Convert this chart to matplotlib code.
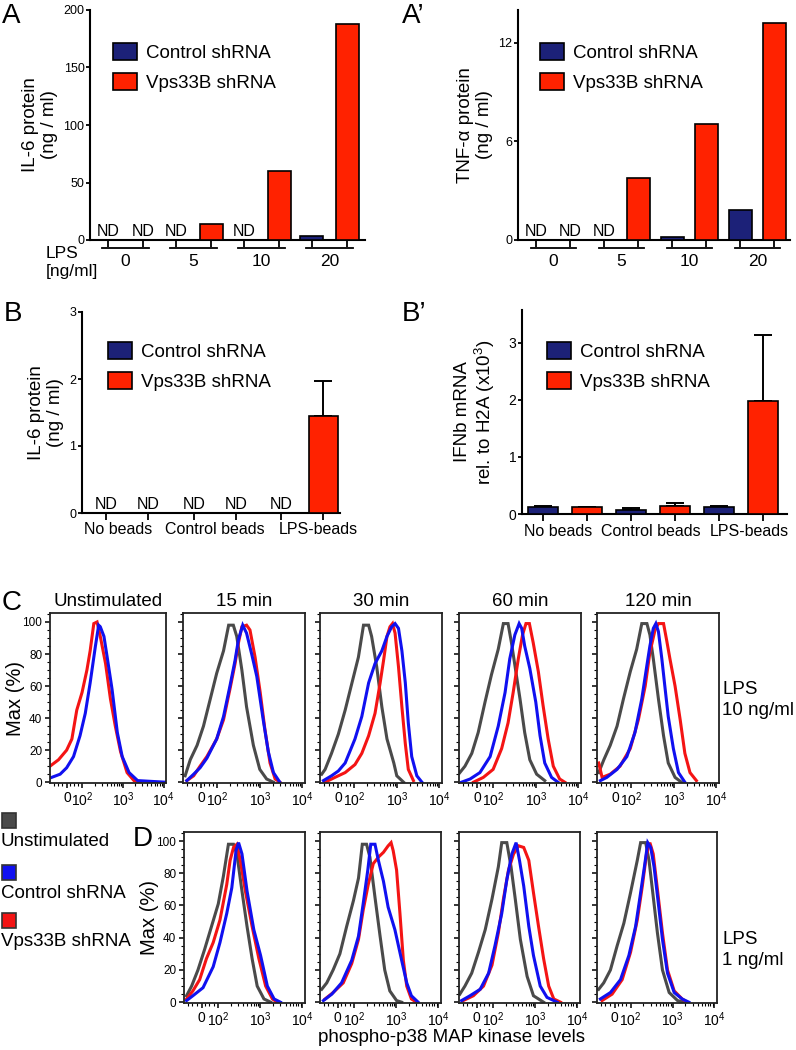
import numpy as np
import matplotlib.pyplot as plt
from matplotlib.patches import Rectangle
from matplotlib.ticker import FixedLocator, MultipleLocator

plt.rcParams['font.family'] = ['Liberation Sans', 'DejaVu Sans']
plt.rcParams['mathtext.fontset'] = 'custom'
plt.rcParams['mathtext.rm'] = 'Liberation Sans'

# --- bar panel data (A, A', B, B') ---
lps_doses = ['0', '5', '10', '20']
il6_ctrl = [0, 0, 0, 3.5]
il6_vps = [0, 14, 60, 188]
il6_ctrl_nd = [True, True, True, False]
il6_vps_nd = [True, False, False, False]

tnf_ctrl = [0, 0, 0.2, 1.85]
tnf_vps = [0, 3.8, 7.05, 13.2]
tnf_ctrl_nd = [True, True, False, False]
tnf_vps_nd = [True, False, False, False]

bead_groups = ['No beads', 'Control beads', 'LPS-beads']
beads_il6_ctrl = [0, 0, 0]
beads_il6_vps = [0, 0, 1.45]
beads_il6_vps_err = [0, 0, 0.52]
beads_il6_ctrl_nd = [True, True, True]
beads_il6_vps_nd = [True, True, False]

ifnb_ctrl = [0.12, 0.07, 0.13]
ifnb_ctrl_err = [0.02, 0.03, 0.01]
ifnb_vps = [0.12, 0.14, 1.98]
ifnb_vps_err = [0.005, 0.05, 1.16]

# --- flow histograms (x in log10 units, y in % of max) ---
# C: LPS 10 ng/ml
c1_red_x = [1.20, 1.41, 1.61, 1.74, 1.86, 1.99, 2.11, 2.19, 2.28, 2.36, 2.44, 2.57, 2.69, 2.81, 2.94, 3.10, 3.27, 3.44]
c1_red_y = [10, 14, 20, 27, 45, 56, 70, 82, 99, 100, 91, 74, 52, 35, 19, 6, 1, 0]
c1_blue_x = [1.24, 1.45, 1.61, 1.78, 1.94, 2.07, 2.19, 2.32, 2.40, 2.44, 2.53, 2.61, 2.73, 2.86, 2.98, 3.15, 3.36, 4.05]
c1_blue_y = [3, 5, 9, 16, 29, 43, 62, 85, 98, 97, 91, 78, 58, 31, 16, 6, 1, 0]

c2_gray_x = [1.25, 1.37, 1.53, 1.68, 1.84, 1.99, 2.15, 2.27, 2.38, 2.46, 2.58, 2.69, 2.85, 3.00, 3.16, 3.32]
c2_gray_y = [4, 14, 23, 35, 52, 68, 82, 98, 98, 91, 70, 47, 23, 8, 2, 0]
c2_red_x = [1.29, 1.45, 1.60, 1.76, 1.99, 2.15, 2.30, 2.42, 2.50, 2.58, 2.69, 2.77, 2.89, 3.01, 3.12, 3.24, 3.36, 3.47]
c2_red_y = [1, 4, 10, 16, 27, 39, 58, 74, 87, 97, 98, 95, 78, 56, 33, 12, 2, 0]
c2_blue_x = [1.29, 1.45, 1.60, 1.76, 1.99, 2.15, 2.30, 2.42, 2.50, 2.60, 2.69, 2.81, 2.93, 3.08, 3.20, 3.32, 3.47]
c2_blue_y = [1, 5, 9, 15, 27, 41, 60, 76, 89, 98, 93, 80, 66, 39, 19, 6, 0]

c3_gray_x = [1.24, 1.32, 1.47, 1.63, 1.79, 1.94, 2.10, 2.22, 2.34, 2.41, 2.53, 2.65, 2.77, 2.93, 3.00, 3.16]
c3_gray_y = [5, 8, 18, 30, 45, 61, 78, 98, 98, 91, 72, 47, 27, 12, 4, 0]
c3_red_x = [1.32, 1.55, 1.79, 2.02, 2.18, 2.34, 2.49, 2.61, 2.69, 2.77, 2.84, 2.90, 2.96, 3.04, 3.12, 3.20, 3.27, 3.39]
c3_red_y = [0, 3, 6, 11, 18, 29, 43, 62, 76, 91, 97, 99, 93, 72, 47, 24, 8, 1]
c3_blue_x = [1.28, 1.47, 1.63, 1.79, 2.02, 2.18, 2.34, 2.49, 2.65, 2.77, 2.88, 2.96, 3.04, 3.12, 3.20, 3.27, 3.35, 3.47, 3.59]
c3_blue_y = [1, 4, 7, 12, 27, 41, 62, 74, 82, 91, 97, 99, 96, 82, 62, 37, 16, 4, 0]

c4_gray_x = [1.22, 1.34, 1.50, 1.65, 1.81, 1.96, 2.12, 2.24, 2.35, 2.43, 2.51, 2.63, 2.74, 2.86, 3.02, 3.21]
c4_gray_y = [6, 10, 18, 31, 50, 67, 83, 99, 99, 87, 73, 52, 31, 14, 5, 1]
c4_red_x = [1.54, 1.77, 2.00, 2.20, 2.35, 2.47, 2.59, 2.69, 2.77, 2.85, 2.94, 3.06, 3.17, 3.29, 3.41, 3.56, 3.68]
c4_red_y = [0, 3, 8, 21, 37, 56, 77, 92, 99, 99, 87, 69, 48, 27, 10, 2, 0]
c4_blue_x = [1.26, 1.46, 1.69, 1.93, 2.12, 2.28, 2.39, 2.51, 2.61, 2.67, 2.74, 2.86, 3.00, 3.10, 3.21, 3.37, 3.52]
c4_blue_y = [0, 2, 6, 16, 35, 56, 77, 92, 99, 96, 85, 71, 50, 29, 12, 3, 0]

c5_gray_x = [1.24, 1.36, 1.51, 1.67, 1.82, 1.98, 2.13, 2.25, 2.37, 2.44, 2.52, 2.64, 2.76, 2.87, 3.03, 3.18]
c5_gray_y = [6, 14, 23, 35, 52, 69, 83, 99, 99, 92, 77, 52, 29, 12, 3, 0]
c5_red_x = [1.24, 1.32, 1.51, 1.74, 1.98, 2.17, 2.33, 2.44, 2.56, 2.64, 2.76, 2.83, 2.91, 3.03, 3.15, 3.26, 3.38, 3.53]
c5_red_y = [12, 3, 5, 10, 21, 39, 60, 81, 95, 99, 99, 89, 77, 60, 39, 18, 6, 1]
c5_blue_x = [1.28, 1.43, 1.67, 1.90, 2.09, 2.25, 2.37, 2.44, 2.52, 2.58, 2.64, 2.72, 2.79, 2.87, 2.99, 3.11, 3.26]
c5_blue_y = [1, 3, 8, 16, 31, 52, 73, 85, 96, 99, 94, 77, 60, 41, 21, 6, 0]

# D: LPS 1 ng/ml
d1_gray_x = [1.26, 1.38, 1.53, 1.69, 1.85, 2.01, 2.13, 2.25, 2.37, 2.45, 2.57, 2.69, 2.81, 2.93, 3.09, 3.25]
d1_gray_y = [4, 10, 20, 33, 47, 61, 78, 98, 98, 92, 69, 47, 27, 10, 2, 0]
d1_red_x = [1.26, 1.41, 1.57, 1.73, 1.89, 2.05, 2.21, 2.29, 2.37, 2.45, 2.53, 2.65, 2.81, 2.97, 3.13, 3.29, 3.40]
d1_red_y = [2, 7, 14, 27, 37, 51, 73, 88, 96, 98, 88, 69, 47, 27, 10, 2, 0]
d1_blue_x = [1.26, 1.41, 1.65, 1.89, 2.05, 2.21, 2.33, 2.43, 2.49, 2.57, 2.69, 2.85, 3.01, 3.17, 3.33, 3.48]
d1_blue_y = [1, 4, 9, 22, 37, 55, 71, 94, 99, 92, 69, 45, 29, 10, 2, 0]

d2_gray_x = [1.24, 1.36, 1.51, 1.67, 1.83, 1.99, 2.11, 2.20, 2.30, 2.38, 2.50, 2.62, 2.73, 2.85, 3.01, 3.13]
d2_gray_y = [8, 12, 20, 30, 47, 63, 77, 98, 98, 90, 65, 41, 20, 7, 1, 0]
d2_red_x = [1.32, 1.51, 1.75, 1.95, 2.11, 2.22, 2.34, 2.46, 2.58, 2.70, 2.81, 2.88, 2.93, 3.01, 3.09, 3.17, 3.25, 3.36, 3.48]
d2_red_y = [2, 6, 12, 24, 39, 57, 73, 86, 90, 93, 97, 99, 94, 82, 55, 26, 10, 2, 0]
d2_blue_x = [1.28, 1.48, 1.71, 1.95, 2.11, 2.22, 2.33, 2.40, 2.50, 2.58, 2.70, 2.81, 2.97, 3.13, 3.25, 3.36, 3.52]
d2_blue_y = [1, 5, 12, 26, 41, 61, 82, 98, 98, 88, 75, 59, 45, 26, 12, 4, 0]

d3_gray_x = [1.22, 1.34, 1.50, 1.66, 1.82, 1.98, 2.13, 2.21, 2.33, 2.43, 2.53, 2.65, 2.81, 2.96, 3.20]
d3_gray_y = [5, 10, 18, 31, 45, 64, 84, 99, 99, 84, 64, 39, 16, 4, 0]
d3_red_x = [1.30, 1.54, 1.78, 1.98, 2.13, 2.25, 2.37, 2.49, 2.61, 2.73, 2.85, 2.96, 3.08, 3.20, 3.32, 3.44, 3.60]
d3_red_y = [1, 4, 10, 23, 43, 64, 82, 92, 97, 96, 88, 68, 47, 27, 10, 2, 0]
d3_blue_x = [1.26, 1.46, 1.70, 1.90, 2.05, 2.21, 2.33, 2.45, 2.55, 2.63, 2.73, 2.85, 2.96, 3.12, 3.28, 3.52]
d3_blue_y = [1, 4, 8, 18, 35, 55, 76, 92, 99, 88, 72, 47, 29, 10, 3, 0]

d4_gray_x = [1.24, 1.36, 1.52, 1.68, 1.84, 2.00, 2.16, 2.24, 2.36, 2.44, 2.52, 2.64, 2.76, 2.92, 3.12, 3.27]
d4_gray_y = [8, 12, 20, 35, 49, 68, 88, 99, 99, 88, 70, 43, 20, 6, 1, 0]
d4_red_x = [1.32, 1.56, 1.80, 2.00, 2.16, 2.28, 2.38, 2.46, 2.54, 2.64, 2.76, 2.88, 3.04, 3.23, 3.35]
d4_red_y = [1, 5, 14, 31, 51, 72, 92, 99, 92, 70, 43, 20, 7, 2, 0]
d4_blue_x = [1.28, 1.52, 1.76, 1.96, 2.12, 2.24, 2.33, 2.41, 2.48, 2.56, 2.65, 2.76, 2.88, 3.04, 3.23, 3.39]
d4_blue_y = [2, 6, 14, 29, 47, 68, 84, 99, 96, 84, 64, 39, 18, 6, 2, 0]

time_points = ['Unstimulated', '15 min', '30 min', '60 min', '120 min']
hist_ticks = [1.62, 2, 3, 4]
hist_ticklabels = ['0', r'$\mathregular{10^2}$', r'$\mathregular{10^3}$', r'$\mathregular{10^4}$']

NAVY = '#1c2178'
RED = '#ff2200'
H_GRAY = '#4a4a4a'
H_BLUE = '#1010f0'
H_RED = '#f41414'

W, H = 796, 1050
fig = plt.figure(figsize=(W / 100, H / 100), dpi=100)


def px_axes(l, t, r, b):
    return fig.add_axes([l / W, 1 - b / H, (r - l) / W, (b - t) / H])


def bar_panel(ax, groups, ctrl, vps, ctrl_nd, vps_nd, off, width, xlim, ylim, yticks,
              ctrl_err=None, vps_err=None, brackets=False, label_dy=20, label_size=12.5,
              label_dx=None, leg_xy=(0.1, 0.9)):
    x = np.arange(len(groups))
    xc, xv = x - off, x + off
    b1 = ax.bar(xc, ctrl, width, color=NAVY, edgecolor='black', linewidth=1.2,
                label='Control shRNA', zorder=3)
    b2 = ax.bar(xv, vps, width, color=RED, edgecolor='black', linewidth=1.2,
                label='Vps33B shRNA', zorder=3)
    for pos, vals, errs in ((xc, ctrl, ctrl_err), (xv, vps, vps_err)):
        if errs is None:
            continue
        for p, v, e in zip(pos, vals, errs):
            if e > 0:
                ax.errorbar(p, v, yerr=[[0], [e]], fmt='none', ecolor='black',
                            elinewidth=1.4, capsize=6.5, capthick=1.4, zorder=2)
    for pos, nd in ((xc, ctrl_nd), (xv, vps_nd)):
        for p, flag in zip(pos, nd):
            if flag:
                ax.annotate('ND', (p, 0), xytext=(0, 1), textcoords='offset points',
                            ha='center', va='bottom', fontsize=11.5)
    ax.set_xlim(*xlim)
    ax.set_ylim(*ylim)
    ax.set_yticks(yticks)
    ax.set_xticks(np.sort(np.concatenate([xc, xv])))
    ax.set_xticklabels([])
    for s in ('top', 'right'):
        ax.spines[s].set_visible(False)
    for s in ('left', 'bottom'):
        ax.spines[s].set_linewidth(1.5)
    ax.tick_params(axis='x', length=5, width=1.3, direction='out')
    ax.tick_params(axis='y', length=3, width=1.3, direction='out', labelsize=9, pad=1)
    hpx = ax.bbox.height
    if label_dx is None:
        label_dx = [0] * len(groups)
    for g, lab, dx in zip(x, groups, label_dx):
        if brackets:
            yb = -7.5 / hpx
            ax.plot([g - off - 0.08, g + off + 0.08], [yb, yb], color='black', lw=1.3,
                    transform=ax.get_xaxis_transform(), clip_on=False)
        ax.annotate(lab, (g, 0), xycoords=('data', 'axes fraction'),
                    xytext=(dx * 0.72, -label_dy * 0.72), textcoords='offset points',
                    ha='center', va='center', fontsize=label_size, annotation_clip=False)
    ax.legend(handles=[b1, b2], loc='upper left', bbox_to_anchor=leg_xy, frameon=False,
              fontsize=13.5, handlelength=1.3, handleheight=1.0, handletextpad=0.45,
              labelspacing=0.6, borderpad=0, borderaxespad=0)


# A
axA = px_axes(90, 10, 365, 240)
bar_panel(axA, lps_doses, il6_ctrl, il6_vps, il6_ctrl_nd, il6_vps_nd, 0.26, 0.34,
          (-0.52, 3.52), (0, 200), [0, 50, 100, 150, 200], brackets=True, label_dy=22,
          leg_xy=(23 / 275, (240 - 43) / 230))
axA.set_ylabel('IL-6 protein\n(ng / ml)', fontsize=13.5, labelpad=4, linespacing=1.15)
fig.text(46 / W, 1 - 253 / H, 'LPS', fontsize=12.5, va='center')
fig.text(46 / W, 1 - 272 / H, '[ng/ml]', fontsize=12.5, va='center')

# A'
axA2 = px_axes(518, 10, 790, 240)
bar_panel(axA2, lps_doses, tnf_ctrl, tnf_vps, tnf_ctrl_nd, tnf_vps_nd, 0.25, 0.34,
          (-0.52, 3.48), (0, 14), [0, 6, 12], brackets=True, label_dy=22,
          leg_xy=(22 / 272, (240 - 43) / 230))
axA2.set_ylabel('TNF-\u03b1 protein\n(ng / ml)', fontsize=13.5, labelpad=4, linespacing=1.15)

# B
axB = px_axes(82, 312, 340, 513)
bar_panel(axB, bead_groups, beads_il6_ctrl, beads_il6_vps, beads_il6_ctrl_nd, beads_il6_vps_nd,
          0.24, 0.33, (-0.52, 2.43), (0, 3), [0, 1, 2, 3], vps_err=beads_il6_vps_err,
          label_dy=17, label_size=11.5, label_dx=[-9, 0, 16],
          leg_xy=(26 / 258, (513 - 342) / 201))
axB.set_ylabel('IL-6 protein\n(ng / ml)', fontsize=13.5, labelpad=4, linespacing=1.15)

# B'
axB2 = px_axes(522, 310, 787, 514)
bar_panel(axB2, bead_groups, ifnb_ctrl, ifnb_vps, [False] * 3, [False] * 3,
          0.25, 0.34, (-0.49, 2.52), (0, 3.57), [0, 1, 2, 3],
          ctrl_err=ifnb_ctrl_err, vps_err=ifnb_vps_err,
          label_dy=17, label_size=11.5, label_dx=[-7, -2, 8],
          leg_xy=(25 / 265, (514 - 342) / 204))
axB2.tick_params(axis='y', labelsize=10)
axB2.set_ylabel('IFNb mRNA\nrel. to H2A (x10$\\mathregular{^3}$)', fontsize=13.5,
                labelpad=8, linespacing=1.15)

# panel letters
for txt, px, py in (('A', 2, 3), ('A\u2019', 402, 3), ('B', 4, 301), ('B\u2019', 402, 301),
                    ('C', 2, 590), ('D', 133, 826)):
    fig.text(px / W, 1 - py / H, txt, fontsize=20, va='top', ha='left')

# flow histograms
c_curves = [
    [(c1_red_x, c1_red_y, H_RED), (c1_blue_x, c1_blue_y, H_BLUE)],
    [(c2_gray_x, c2_gray_y, H_GRAY), (c2_red_x, c2_red_y, H_RED), (c2_blue_x, c2_blue_y, H_BLUE)],
    [(c3_gray_x, c3_gray_y, H_GRAY), (c3_red_x, c3_red_y, H_RED), (c3_blue_x, c3_blue_y, H_BLUE)],
    [(c4_gray_x, c4_gray_y, H_GRAY), (c4_red_x, c4_red_y, H_RED), (c4_blue_x, c4_blue_y, H_BLUE)],
    [(c5_gray_x, c5_gray_y, H_GRAY), (c5_red_x, c5_red_y, H_RED), (c5_blue_x, c5_blue_y, H_BLUE)],
]
d_curves = [
    [(d1_gray_x, d1_gray_y, H_GRAY), (d1_red_x, d1_red_y, H_RED), (d1_blue_x, d1_blue_y, H_BLUE)],
    [(d2_gray_x, d2_gray_y, H_GRAY), (d2_red_x, d2_red_y, H_RED), (d2_blue_x, d2_blue_y, H_BLUE)],
    [(d3_gray_x, d3_gray_y, H_GRAY), (d3_red_x, d3_red_y, H_RED), (d3_blue_x, d3_blue_y, H_BLUE)],
    [(d4_gray_x, d4_gray_y, H_GRAY), (d4_red_x, d4_red_y, H_RED), (d4_blue_x, d4_blue_y, H_BLUE)],
]
c_cols = [(50, 166), (183, 305), (320, 442), (459, 581), (597, 719)]
d_cols = [(184, 305), (320, 441), (459, 580), (597, 717)]

minor_x = [1.3, 1.4, 1.5, 1.7, 1.8, 1.9]
for dec in (2, 3):
    minor_x += list(dec + np.log10(np.arange(2, 10)))


def hist_panel(ax, curves, ylabels):
    for xs, ys, col in curves:
        ax.plot(xs, ys, color=col, lw=2.2, solid_joinstyle='miter')
    ax.set_xlim(1.2, 4.06)
    ax.set_ylim(-0.5, 105.6)
    ax.xaxis.set_major_locator(FixedLocator(hist_ticks))
    ax.xaxis.set_minor_locator(FixedLocator(minor_x))
    ax.set_xticklabels(hist_ticklabels)
    ax.yaxis.set_major_locator(MultipleLocator(20))
    ax.yaxis.set_minor_locator(MultipleLocator(5))
    ax.tick_params(which='major', length=3.5, width=1.1, labelsize=8.5, pad=2)
    ax.tick_params(which='minor', length=2, width=0.8)
    ax.tick_params(axis='x', labelsize=10, pad=2)
    if not ylabels:
        ax.set_yticklabels([])
    else:
        ax.set_ylabel('Max (%)', fontsize=14.5)
        ax.yaxis.set_label_coords(-25 / ax.bbox.width, 0.5)
    for s in ax.spines.values():
        s.set_linewidth(1.3)
        s.set_color('#222222')


for i, ((l, r), curves) in enumerate(zip(c_cols, c_curves)):
    ax = px_axes(l, 613, r, 783)
    hist_panel(ax, curves, i == 0)
    ax.set_title(time_points[i], fontsize=13.5, pad=5)

for i, ((l, r), curves) in enumerate(zip(d_cols, d_curves)):
    ax = px_axes(l, 832, r, 1003)
    hist_panel(ax, curves, i == 0)

fig.text(452 / W, 1 - 1038 / H, 'phospho-p38 MAP kinase levels', fontsize=13.5,
         ha='center', va='center')
fig.text(722 / W, 1 - 700 / H, 'LPS\n10 ng/ml', fontsize=13.5, va='center', linespacing=1.25)
fig.text(722 / W, 1 - 950 / H, 'LPS\n1 ng/ml', fontsize=13.5, va='center', linespacing=1.25)

# legend for histograms
for (col, lab, top) in ((H_GRAY, 'Unstimulated', 813), (H_BLUE, 'Control shRNA', 865),
                        (H_RED, 'Vps33B shRNA', 913)):
    fig.patches.append(Rectangle((2 / W, 1 - (top + 15) / H), 14 / W, 15 / H,
                                 transform=fig.transFigure, facecolor=col,
                                 edgecolor='#333333', lw=1.2))
    fig.text(1 / W, 1 - (top + 28) / H, lab, fontsize=13.5, va='center', ha='left')

fig.savefig('out.png', dpi=100)
